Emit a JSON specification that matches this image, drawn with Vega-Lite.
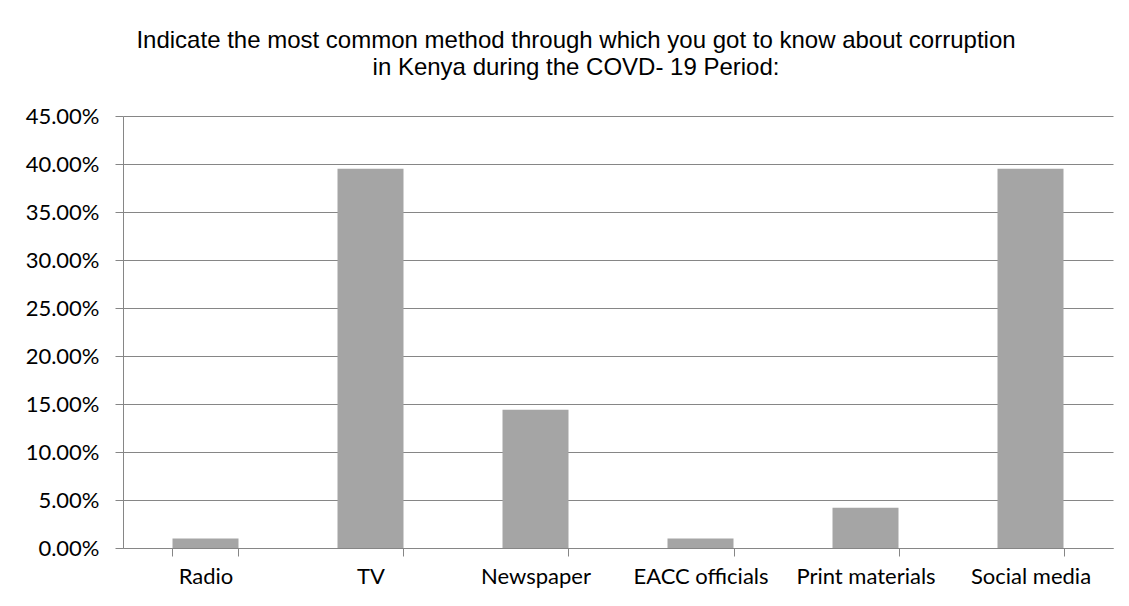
{
  "$schema": "https://vega.github.io/schema/vega-lite/v6.json",
  "autosize": {"type": "none"},
  "width": 990,
  "height": 432,
  "padding": {"left": 123, "top": 116, "right": 16, "bottom": 58},
  "background": "white",
  "title": {
    "text": ["Indicate the most common method through which you got to know about corruption", "in Kenya during the COVD- 19 Period:"],
    "anchor": "middle",
    "frame": "group",
    "dx": -42,
    "offset": 25,
    "font": "Liberation Sans",
    "fontSize": 24,
    "fontWeight": "normal",
    "lineHeight": 27,
    "color": "black"
  },
  "data": {
    "values": [
      {"method": "Radio", "share": 0.010},
      {"method": "TV", "share": 0.395},
      {"method": "Newspaper", "share": 0.144},
      {"method": "EACC officials", "share": 0.010},
      {"method": "Print materials", "share": 0.042},
      {"method": "Social media", "share": 0.395}
    ]
  },
  "mark": {"type": "bar", "color": "#a5a5a5"},
  "encoding": {
    "x": {
      "field": "method",
      "type": "nominal",
      "sort": null,
      "scale": {"paddingInner": 0.6, "paddingOuter": 0.3},
      "axis": {
        "title": null,
        "labelAngle": 0,
        "tickBand": "extent",
        "tickSize": 8,
        "tickColor": "#868686",
        "domainColor": "#868686",
        "labelPadding": 10,
        "labelFont": "Lato",
        "labelFontSize": 22,
        "labelColor": "black",
        "grid": false
      }
    },
    "y": {
      "field": "share",
      "type": "quantitative",
      "scale": {"domain": [0, 0.45], "nice": false},
      "axis": {
        "title": null,
        "values": [0, 0.05, 0.1, 0.15, 0.2, 0.25, 0.3, 0.35, 0.4, 0.45],
        "format": ".2%",
        "tickSize": 8,
        "tickColor": "#868686",
        "domainColor": "#868686",
        "gridColor": "#868686",
        "labelPadding": 16,
        "labelFont": "Lato",
        "labelFontSize": 22,
        "labelColor": "black",
        "grid": true
      }
    }
  },
  "config": {"view": {"stroke": null}}
}
